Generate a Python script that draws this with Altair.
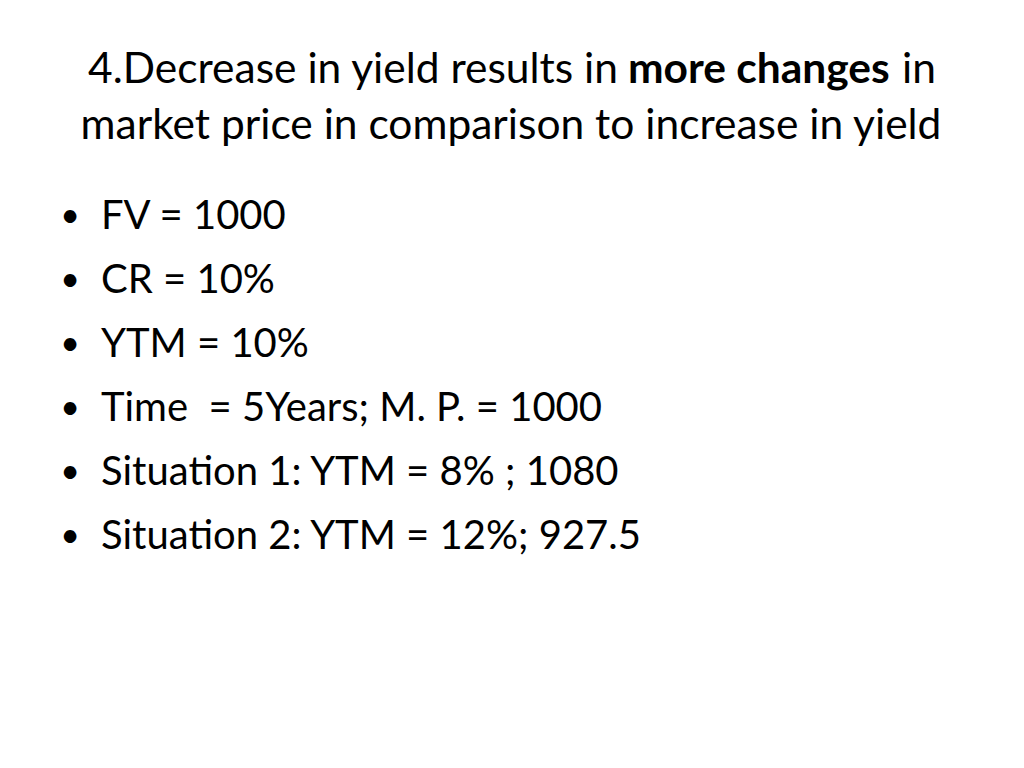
import altair as alt
import pandas as pd

title_line1 = ["4.Decrease in yield results in", "more changes", "in"]
title_line2 = "market price in comparison to increase in yield"
bullets = [
    "FV = 1000",
    "CR = 10%",
    "YTM = 10%",
    "Time\u00a0\u00a0= 5Years; M. P. = 1000",
    "Situation 1: YTM = 8% ; 1080",
    "Situation 2: YTM = 12%; 927.5",
]

FONT = "Lato"
W, H = 1008, 752

bullet_df = pd.DataFrame({"row": list(range(len(bullets))), "text": bullets})
y_rows = alt.Y(
    "row:Q",
    scale=alt.Scale(domain=[0, len(bullets) - 1], range=[209, 209 + 64 * (len(bullets) - 1)]),
    axis=None,
)

base = alt.Chart(bullet_df)

dots = base.mark_text(
    font=FONT, fontSize=34, align="center", baseline="middle", color="black"
).encode(x=alt.value(62), y=y_rows, text=alt.value("•"))

body = base.mark_text(
    font=FONT, fontSize=40, align="left", baseline="middle", color="black"
).encode(x=alt.value(93), y=y_rows, text="text:N")

t1 = pd.DataFrame({"text": [title_line1[0]]})
t1b = pd.DataFrame({"text": [title_line1[1]]})
t1c = pd.DataFrame({"text": [title_line1[2]]})
t2 = pd.DataFrame({"text": [title_line2]})

title_kw = dict(font=FONT, fontSize=42.5, baseline="middle", color="black")

seg1 = alt.Chart(t1).mark_text(align="right", **title_kw).encode(
    x=alt.value(610), y=alt.value(62), text="text:N"
)
seg2 = alt.Chart(t1b).mark_text(align="left", fontWeight="bold", **title_kw).encode(
    x=alt.value(620), y=alt.value(62), text="text:N"
)
seg3 = alt.Chart(t1c).mark_text(align="left", **title_kw).encode(
    x=alt.value(894), y=alt.value(62), text="text:N"
)
line2 = alt.Chart(t2).mark_text(align="center", **title_kw).encode(
    x=alt.value(503), y=alt.value(118), text="text:N"
)

chart = (
    alt.layer(dots, body, seg1, seg2, seg3, line2)
    .properties(width=W, height=H, padding=0, autosize="none", background="white")
    .configure_view(stroke=None)
)

chart.save("out.html", embed_options={"renderer": "svg", "actions": False})
